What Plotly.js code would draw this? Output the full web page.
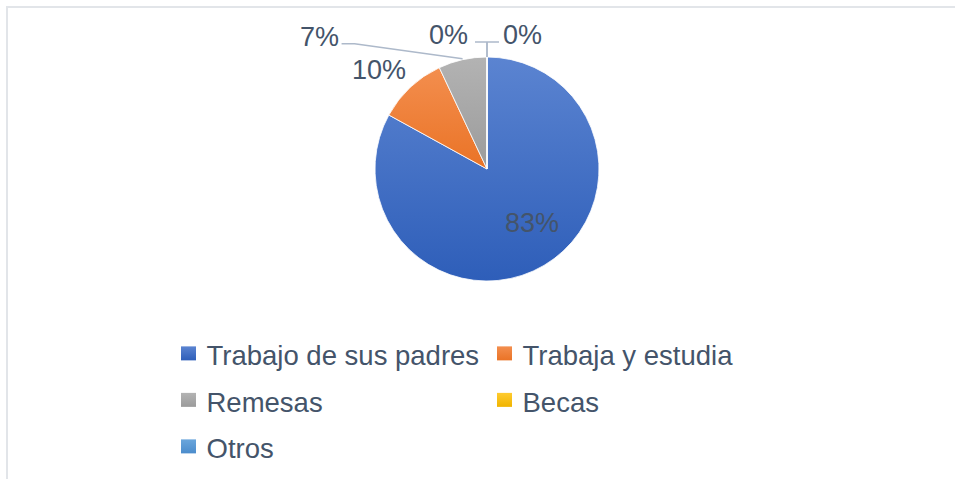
<!DOCTYPE html>
<html>
<head>
<meta charset="utf-8">
<script src="https://cdn.plot.ly/plotly-3.0.1.min.js"></script>
<style>
html,body{margin:0;padding:0;background:#fff;}
#chart{width:955px;height:479px;}
</style>
</head>
<body>
<div id="chart"></div>
<script>
// ---- data ----
const categories = ['Trabajo de sus padres', 'Trabaja y estudia', 'Remesas', 'Becas', 'Otros'];
const values = [83, 10, 7, 0, 0];
const sliceColors = ['#4472c4', '#ed7d31', '#a5a5a5', '#ffc000', '#5b9bd5'];
// gradient ends (top, bottom) used to shade each slice like the original
const gradTop = ['#5b84d1', '#f38e4e', '#b3b3b3', '#ffcb2f', '#6aa6dc'];
const gradBottom = ['#2e5eb9', '#ea7326', '#9b9b9b', '#f0b400', '#4b8ccc'];

// ---- geometry (layout) ----
const W = 955, H = 479;
const MR = 30;                 // right margin: keeps the legend to two columns
const PW = W - MR;             // plot-area width in px
const CX = 487, CY = 169, R = 112;
const textColor = '#44546a';
const lineColor = '#adb9ca';
const FONT = 'Liberation Sans, Arial, sans-serif';
const ROW_GAP = 46.5;

const total = values.reduce((a, b) => a + b, 0);
const pctText = values.map(v => Math.round(v / total * 100) + '%');

// mid angle of each slice (degrees clockwise from 12 o'clock)
let cum = 0;
const midAngle = values.map(v => { const a = (cum + v / 2) / total * 360; cum += v; return a; });
function edgePoint(angDeg, rr) {
  const a = angDeg * Math.PI / 180;
  return [CX + rr * Math.sin(a), CY - rr * Math.cos(a)];
}
const px = x => x / PW, py = y => 1 - y / H;

// label placement per slice: offset of the label centre from the slice's edge point
const labelOffsets = [
  {inside: true, r: 0.62, dx: 10, dy: -6},
  {dx: -31, dy: -17},
  {dx: -143, dy: -23, leader: 'elbow'},
  {dx: -38.5, dy: -22, leader: 'up', side: -1},
  {dx: 35.5, dy: -22, leader: 'up', side: 1}
];

const annotations = [];
const shapes = [];
values.forEach((v, i) => {
  const o = labelOffsets[i];
  let lx, ly;
  if (o.inside) {
    const p = edgePoint(midAngle[i], R * o.r);
    lx = p[0] + o.dx; ly = p[1] + o.dy;
  } else {
    const p = edgePoint(midAngle[i], R);
    lx = p[0] + o.dx; ly = p[1] + o.dy;
    if (o.leader === 'elbow') {
      const yL = ly + 7;
      shapes.push({type: 'path', xref: 'paper', yref: 'paper',
        path: 'M' + px(lx + 22) + ',' + py(yL) + ' L' + px(lx + 35) + ',' + py(yL) + ' L' + px(p[0]) + ',' + py(p[1] - 1),
        line: {color: lineColor, width: 1.5}});
    } else if (o.leader === 'up') {
      const yL = ly + 7;
      shapes.push({type: 'line', xref: 'paper', yref: 'paper',
        x0: px(p[0]), y0: py(p[1]), x1: px(p[0]), y1: py(yL),
        line: {color: lineColor, width: 1.5}});
      shapes.push({type: 'line', xref: 'paper', yref: 'paper',
        x0: px(p[0]), y0: py(yL), x1: px(p[0] + o.side * 12), y1: py(yL),
        line: {color: lineColor, width: 1.5}});
    }
  }
  annotations.push({xref: 'paper', yref: 'paper', x: px(lx), y: py(ly),
    xanchor: 'center', yanchor: 'middle', showarrow: false, text: pctText[i],
    font: {family: FONT, size: 27, color: textColor}});
});

// chart border (top & left edges visible)
shapes.push({type: 'path', xref: 'paper', yref: 'paper',
  path: 'M' + px(7) + ',0 L' + px(7) + ',' + py(7) + ' L' + px(W) + ',' + py(7),
  line: {color: '#e2e5e9', width: 2}});

const trace = {
  type: 'pie',
  labels: categories,
  values: values,
  sort: false,
  direction: 'clockwise',
  rotation: 0,
  textinfo: 'none',
  hoverinfo: 'label+percent',
  marker: {colors: sliceColors, line: {color: '#ffffff', width: 0.8}},
  domain: {x: [px(CX - R), px(CX + R)], y: [py(CY + R), py(CY - R)]},
  showlegend: true
};

const layout = {
  width: W, height: H,
  margin: {l: 0, r: MR, t: 0, b: 0},
  paper_bgcolor: '#ffffff',
  showlegend: true,
  legend: {
    orientation: 'h',
    x: px(166.5), xanchor: 'left',
    y: py(330), yanchor: 'top',
    entrywidth: 271, entrywidthmode: 'pixels',
    font: {family: FONT, size: 27.5, color: textColor},
    traceorder: 'normal',
    bgcolor: 'rgba(0,0,0,0)'
  },
  annotations: annotations,
  shapes: shapes
};

Plotly.newPlot('chart', [trace], layout, {displayModeBar: false, staticPlot: true}).then(gd => {
  const svg = gd.querySelector('svg.main-svg');
  const NS = 'http://www.w3.org/2000/svg';
  let defs = svg.querySelector('defs');
  if (!defs) { defs = document.createElementNS(NS, 'defs'); svg.insertBefore(defs, svg.firstChild); }
  gradTop.forEach((c, i) => {
    const g = document.createElementNS(NS, 'linearGradient');
    g.setAttribute('id', 'sliceGrad' + i);
    g.setAttribute('x1', '0'); g.setAttribute('y1', '0');
    g.setAttribute('x2', '0'); g.setAttribute('y2', '1');
    [[0, c], [1, gradBottom[i]]].forEach(([off, col]) => {
      const s = document.createElementNS(NS, 'stop');
      s.setAttribute('offset', off); s.setAttribute('stop-color', col);
      g.appendChild(s);
    });
    defs.appendChild(g);
  });
  // shade slices
  gd.querySelectorAll('g.slice').forEach((sl, k) => {
    const d = sl.__data__;
    const idx = d && d.i !== undefined ? d.i : k;
    const p = sl.querySelector('path.surface');
    if (p) p.style.fill = 'url(#sliceGrad' + idx + ')';
  });
  // legend: bigger squares, Office-like row spacing
  const traces = Array.from(gd.querySelectorAll('g.legend g.traces'));
  const ys = [];
  traces.forEach(t => {
    const m = /translate\(\s*([-\d.]+)[ ,]+([-\d.]+)/.exec(t.getAttribute('transform') || '');
    t._tx = m ? +m[1] : 0; t._ty = m ? +m[2] : 0;
    if (!ys.some(y => Math.abs(y - t._ty) < 1)) ys.push(t._ty);
  });
  ys.sort((a, b) => a - b);
  traces.forEach((t, k) => {
    const row = ys.findIndex(y => Math.abs(y - t._ty) < 1);
    t.setAttribute('transform', 'translate(' + t._tx + ',' + (ys[0] + row * ROW_GAP) + ')');
    const sym = t.querySelector('path.legendpie');
    if (sym) {
      sym.setAttribute('d', 'M7.5,7H-7.5V-7H7.5Z');
      sym.setAttribute('transform', 'translate(22,-1)');
      sym.style.fill = 'url(#sliceGrad' + k + ')';
      sym.style.strokeWidth = '0';
    }
  });
  gd.querySelectorAll('g.legend .scrollbox').forEach(s => s.removeAttribute('clip-path'));
});
</script>
</body>
</html>
